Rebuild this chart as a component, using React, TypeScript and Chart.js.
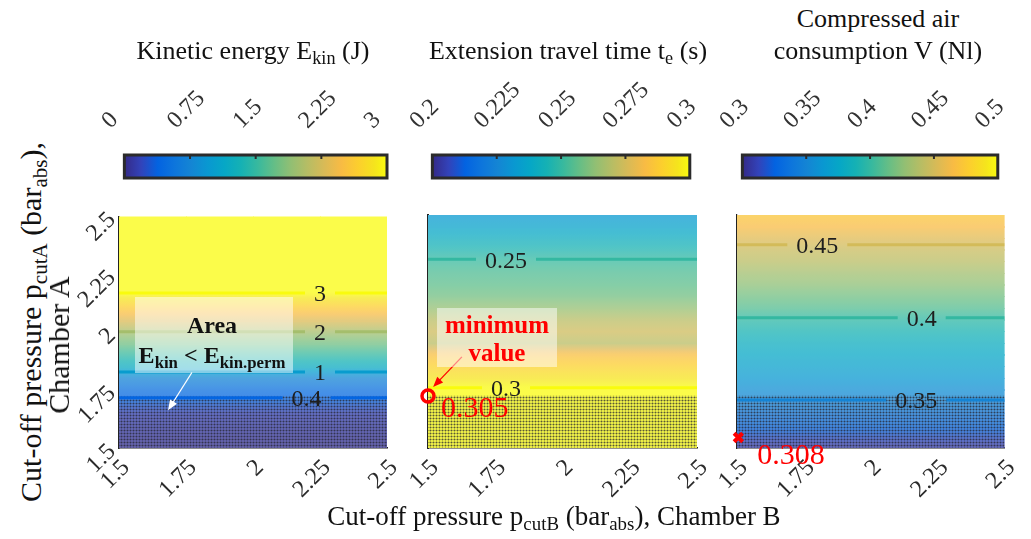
import React, { useEffect, useRef } from 'react';
import { Chart, registerables } from 'chart.js';

Chart.register(...registerables);

// ---------------- data ----------------
const pcutB = [1.5, 1.75, 2, 2.25, 2.5];
const pcutA = [1.5, 1.55, 1.6, 1.65, 1.7, 1.75, 1.8, 1.85, 1.9, 1.95, 2, 2.05, 2.1, 2.15, 2.2, 2.25, 2.3, 2.35, 2.4, 2.45, 2.5];

const kineticEnergy = [0.05, 0.08, 0.12, 0.18, 0.35, 0.5, 0.75, 1.2, 1.48, 1.75, 1.99, 2.3, 2.6, 2.88, 3.2, 3.5, 3.8, 4.05, 4.3, 4.5, 4.7];
const travelTime = [0.325, 0.32, 0.315, 0.31, 0.305, 0.301, 0.295, 0.29, 0.284, 0.27, 0.274, 0.27, 0.264, 0.259, 0.256, 0.254, 0.251, 0.246, 0.241, 0.236, 0.232];
const airConsumption = [0.308, 0.318, 0.33, 0.34, 0.349, 0.357, 0.364, 0.37, 0.376, 0.382, 0.39, 0.398, 0.409, 0.417, 0.425, 0.432, 0.44, 0.446, 0.455, 0.465, 0.472];

const axisTicks = [1.5, 1.75, 2, 2.25, 2.5];
const axisTickLabels = ['1.5', '1.75', '2', '2.25', '2.5'];

const energyTicks = [0, 0.75, 1.5, 2.25, 3];
const energyTickLabels = ['0', '0.75', '1.5', '2.25', '3'];
const timeTicks = [0.2, 0.225, 0.25, 0.275, 0.3];
const timeTickLabels = ['0.2', '0.225', '0.25', '0.275', '0.3'];
const airTicks = [0.3, 0.35, 0.4, 0.45, 0.5];
const airTickLabels = ['0.3', '0.35', '0.4', '0.45', '0.5'];

const energyContours = [0.4, 1, 2, 3];
const energyContourLabels = ['0.4', '1', '2', '3'];
const energyContourLabelX = [2.2, 2.25, 2.25, 2.25];
const timeContours = [0.25, 0.3];
const timeContourLabels = ['0.25', '0.3'];
const timeContourLabelX = [1.79, 1.79];
const airContours = [0.35, 0.4, 0.45];
const airContourLabels = ['0.35', '0.4', '0.45'];
const airContourLabelX = [2.17, 2.19, 1.8];

const infeasibleLimit = 1.725;
const minTimePoint = [{ x: 1.5, y: 1.723 }];
const minTimeLabel = '0.305';
const minAirPoint = [{ x: 1.505, y: 1.545 }];
const minAirLabel = '0.308';

const energyArrow = { from: { x: 1.772, y: 1.826 }, to: { x: 1.683, y: 1.663 } };
const timeArrow = { from: { x: 1.626, y: 1.891 }, to: { x: 1.519, y: 1.762 } };

// ---------------- styling ----------------
const SERIF = "'Liberation Serif', 'Times New Roman', serif";
const PARULA = [
  [53, 42, 135], [50, 67, 186], [3, 99, 225], [13, 117, 220], [20, 133, 212], [9, 152, 209],
  [6, 167, 198], [21, 177, 180], [56, 185, 158], [101, 190, 134], [146, 191, 115], [183, 189, 100],
  [217, 186, 86], [248, 187, 68], [252, 206, 46], [245, 228, 29], [249, 251, 14],
];
const PARULA_POS = [0, 4, 8, 12, 16, 20, 24, 28, 32, 36, 40, 44, 48, 52, 56, 60, 63].map((k) => k / 63);
const CELL_ALPHA = 0.75;

function parula(t: number): number[] {
  const tt = Math.max(0, Math.min(1, t));
  for (let k = 0; k < PARULA_POS.length - 1; k++) {
    if (tt <= PARULA_POS[k + 1]) {
      const f = (tt - PARULA_POS[k]) / (PARULA_POS[k + 1] - PARULA_POS[k]);
      return PARULA[k].map((c, i) => c + (PARULA[k + 1][i] - c) * f);
    }
  }
  return PARULA[PARULA.length - 1];
}
const rgb = (c: number[]) => `rgb(${Math.round(c[0])},${Math.round(c[1])},${Math.round(c[2])})`;
const cellColor = (v: number, vmin: number, vmax: number) =>
  rgb(parula((v - vmin) / (vmax - vmin)).map((c) => 255 - CELL_ALPHA * (255 - c)));

let dotTileCanvas: HTMLCanvasElement | null = null;
function dotTile() {
  if (!dotTileCanvas) {
    const c = document.createElement('canvas');
    c.width = 3; c.height = 3;
    const g = c.getContext('2d')!;
    g.fillStyle = 'rgba(35,35,45,0.75)';
    g.beginPath(); g.arc(1.5, 1.5, 1.05, 0, Math.PI * 2); g.fill();
    dotTileCanvas = c;
  }
  return dotTileCanvas;
}

function drawArrow(ctx: CanvasRenderingContext2D, x0: number, y0: number, x1: number, y1: number, color: string, w: number, head: number) {
  const ang = Math.atan2(y1 - y0, x1 - x0);
  ctx.save();
  ctx.strokeStyle = color; ctx.fillStyle = color; ctx.lineWidth = w;
  ctx.beginPath(); ctx.moveTo(x0, y0);
  ctx.lineTo(x1 - head * 0.7 * Math.cos(ang), y1 - head * 0.7 * Math.sin(ang)); ctx.stroke();
  ctx.beginPath(); ctx.moveTo(x1, y1);
  ctx.lineTo(x1 - head * Math.cos(ang - 0.38), y1 - head * Math.sin(ang - 0.38));
  ctx.lineTo(x1 - head * Math.cos(ang + 0.38), y1 - head * Math.sin(ang + 0.38));
  ctx.closePath(); ctx.fill();
  ctx.restore();
}

interface PanelSpec {
  values: number[]; vmin: number; vmax: number;
  contours: number[]; contourLabels: string[]; contourLabelX: number[];
  arrow?: { from: { x: number; y: number }; to: { x: number; y: number } }; arrowColor?: string;
  points?: { x: number; y: number }[]; pointStyle?: string; pointRadius?: number; pointBorder?: number;
  valueLabel?: string; valueDx?: number; valueDy?: number;
  showY: boolean; left: number; plotW: number; padRight: number; borderW: number;
}

function makeHeatPlugin(spec: PanelSpec) {
  return {
    id: 'heatmapCells',
    beforeDatasetsDraw(chart: any) {
      const { ctx, chartArea: a } = chart;
      const xs = chart.scales.x, ys = chart.scales.y;
      ctx.save();
      ctx.beginPath(); ctx.rect(a.left, a.top, a.right - a.left, a.bottom - a.top); ctx.clip();
      for (let j = 0; j < pcutB.length - 1; j++) {
        const x0 = xs.getPixelForValue(pcutB[j]);
        const x1 = xs.getPixelForValue(pcutB[j + 1]);
        for (let i = 0; i < pcutA.length - 1; i++) {
          const y0 = ys.getPixelForValue(pcutA[i]);
          const y1 = ys.getPixelForValue(pcutA[i + 1]);
          const v0 = spec.values[i], v1 = spec.values[i + 1];
          const g = ctx.createLinearGradient(0, y0, 0, y1);
          for (let k = 0; k <= 4; k++) g.addColorStop(k / 4, cellColor(v0 + ((v1 - v0) * k) / 4, spec.vmin, spec.vmax));
          ctx.fillStyle = g;
          ctx.fillRect(Math.floor(x0), Math.floor(y1), Math.ceil(x1 - x0) + 1, Math.ceil(y0 - y1) + 1);
        }
      }
      // dotted (infeasible) region
      const yTop = ys.getPixelForValue(infeasibleLimit);
      const pat = ctx.createPattern(dotTile(), 'repeat');
      if (pat) { ctx.fillStyle = pat; ctx.fillRect(a.left, yTop, a.right - a.left, a.bottom - yTop); }

      // contour lines
      ctx.font = `24px ${SERIF}`;
      ctx.textAlign = 'center'; ctx.textBaseline = 'middle';
      const labels: { x: number; y: number; t: string }[] = [];
      spec.contours.forEach((lvl, k) => {
        let yc: number | null = null;
        for (let i = 0; i < pcutA.length - 1 && yc === null; i++) {
          const v0 = spec.values[i], v1 = spec.values[i + 1];
          if (v0 !== v1 && (v0 - lvl) * (v1 - lvl) <= 0) yc = pcutA[i] + ((lvl - v0) / (v1 - v0)) * (pcutA[i + 1] - pcutA[i]);
        }
        if (yc === null) return;
        const py = ys.getPixelForValue(yc);
        const lx = xs.getPixelForValue(spec.contourLabelX[k]);
        const half = ctx.measureText(spec.contourLabels[k]).width / 2 + 9;
        ctx.strokeStyle = rgb(parula((lvl - spec.vmin) / (spec.vmax - spec.vmin)));
        ctx.lineWidth = 3;
        ctx.beginPath(); ctx.moveTo(a.left, py); ctx.lineTo(lx - half, py);
        ctx.moveTo(lx + half, py); ctx.lineTo(a.right, py); ctx.stroke();
        labels.push({ x: lx, y: py + 2, t: spec.contourLabels[k] });
      });
      ctx.fillStyle = '#1e1e1e';
      labels.forEach((l) => ctx.fillText(l.t, l.x, l.y));
      ctx.restore();
    },
    afterDatasetsDraw(chart: any) {
      const { ctx } = chart;
      const xs = chart.scales.x, ys = chart.scales.y;
      if (spec.arrow) {
        drawArrow(ctx, xs.getPixelForValue(spec.arrow.from.x), ys.getPixelForValue(spec.arrow.from.y),
          xs.getPixelForValue(spec.arrow.to.x), ys.getPixelForValue(spec.arrow.to.y), spec.arrowColor || '#fff', 1.3, 11);
      }
      if (spec.valueLabel && spec.points) {
        const p = spec.points[0];
        ctx.save();
        ctx.font = `30px ${SERIF}`;
        ctx.fillStyle = '#ff0000';
        ctx.textAlign = 'left'; ctx.textBaseline = 'alphabetic';
        ctx.fillText(spec.valueLabel, xs.getPixelForValue(p.x) + (spec.valueDx || 0), ys.getPixelForValue(p.y) + (spec.valueDy || 0));
        ctx.restore();
      }
    },
  };
}

const PANEL_TOP = 195;
const PANEL_H = 320;
const AXIS_W = 65;

function heatConfig(spec: PanelSpec): any {
  const tickFont = { family: SERIF, size: 24 };
  return {
    type: 'scatter',
    data: {
      datasets: spec.points
        ? [{ data: spec.points, pointStyle: spec.pointStyle, radius: spec.pointRadius, borderWidth: spec.pointBorder,
            borderColor: '#ff0000', backgroundColor: 'rgba(0,0,0,0)', clip: false }]
        : [],
    },
    options: {
      responsive: false, animation: false, events: [],
      layout: { padding: { top: 20, right: spec.padRight, left: 0, bottom: 0 } },
      plugins: { legend: { display: false }, tooltip: { enabled: false } },
      scales: {
        x: {
          type: 'linear', min: 1.5, max: 2.5,
          afterBuildTicks: (s: any) => { s.ticks = axisTicks.map((v) => ({ value: v })); },
          afterFit: (s: any) => { s.height = PANEL_H - 20 - 233; },
          ticks: { callback: (_v: any, i: number) => axisTickLabels[i], autoSkip: false, minRotation: 45, maxRotation: 45,
            font: tickFont, color: '#2b2b2b', padding: 6, labelOffset: 7 },
          grid: { display: false, drawTicks: false },
          border: { display: true, color: '#222', width: 1.5 },
        },
        y: {
          type: 'linear', min: 1.5, max: 2.5,
          afterBuildTicks: (s: any) => { s.ticks = axisTicks.map((v) => ({ value: v })); },
          afterFit: (s: any) => { s.width = AXIS_W; },
          ticks: { display: spec.showY, callback: (_v: any, i: number) => axisTickLabels[i], autoSkip: false, minRotation: 45, maxRotation: 45,
            font: tickFont, color: '#2b2b2b', padding: 7, labelOffset: 0 },
          grid: { display: false, drawTicks: false },
          border: { display: true, color: '#222', width: spec.borderW },
        },
      },
    },
    plugins: [makeHeatPlugin(spec)],
  };
}

function makeColorbarPlugin(ticks: number[]) {
  return {
    id: 'colorbarFill',
    beforeDatasetsDraw(chart: any) {
      const { ctx, chartArea: a } = chart;
      const xs = chart.scales.x;
      ctx.save();
      const g = ctx.createLinearGradient(a.left, 0, a.right, 0);
      PARULA_POS.forEach((p, k) => g.addColorStop(p, rgb(PARULA[k])));
      ctx.fillStyle = g;
      ctx.fillRect(a.left, a.top, a.right - a.left, a.bottom - a.top);
      ctx.strokeStyle = '#2b2b2b'; ctx.lineWidth = 3;
      ctx.strokeRect(a.left, a.top, a.right - a.left, a.bottom - a.top);
      ctx.fillStyle = '#2b2b2b';
      ticks.slice(1, -1).forEach((v) => { const px = xs.getPixelForValue(v); ctx.fillRect(px - 1, a.top, 2, 4); });
      ctx.restore();
    },
  };
}

const CB_TOP = 60;
const CB_H = 130;
const CB_MARGIN = 35;

function colorbarConfig(ticks: number[], labels: string[]): any {
  return {
    type: 'scatter',
    data: { datasets: [] },
    options: {
      responsive: false, animation: false, events: [],
      layout: { padding: { top: 0, right: CB_MARGIN, left: CB_MARGIN, bottom: CB_H - 118 } },
      plugins: { legend: { display: false }, tooltip: { enabled: false } },
      scales: {
        x: {
          type: 'linear', position: 'top', min: ticks[0], max: ticks[ticks.length - 1],
          afterBuildTicks: (s: any) => { s.ticks = ticks.map((v) => ({ value: v })); },
          afterFit: (s: any) => { s.height = 95; },
          ticks: { callback: (_v: any, i: number) => labels[i], autoSkip: false, minRotation: 45, maxRotation: 45,
            font: { family: SERIF, size: 24 }, color: '#333', padding: 20, labelOffset: 2 },
          grid: { display: false, drawTicks: false },
          border: { display: false },
        },
        y: { display: false, min: 0, max: 1 },
      },
    },
    plugins: [makeColorbarPlugin(ticks)],
  };
}

function ChartCanvas({ left, top, width, height, config }: { left: number; top: number; width: number; height: number; config: () => any }) {
  const ref = useRef<HTMLCanvasElement>(null);
  useEffect(() => {
    const chart = new Chart(ref.current as HTMLCanvasElement, config());
    let alive = true;
    const refresh = () => { if (alive) chart.update(); };
    const fonts = (document as any).fonts;
    if (fonts && fonts.ready) fonts.ready.then(refresh, refresh);
    return () => { alive = false; chart.destroy(); };
  }, []);
  return <canvas ref={ref} width={width} height={height} style={{ position: 'absolute', left, top, width, height }} />;
}

const Sub = ({ children }: { children: React.ReactNode }) => (
  <span style={{ fontSize: '0.7em', verticalAlign: '-0.28em', lineHeight: 0 }}>{children}</span>
);

const textBase: React.CSSProperties = {
  position: 'absolute', fontFamily: SERIF, fontSize: 26, lineHeight: '26px', color: '#111', whiteSpace: 'nowrap',
};

const panels: PanelSpec[] = [
  {
    values: kineticEnergy, vmin: energyTicks[0], vmax: energyTicks[energyTicks.length - 1],
    contours: energyContours, contourLabels: energyContourLabels, contourLabelX: energyContourLabelX,
    arrow: energyArrow, arrowColor: '#ffffff',
    showY: true, left: 119, plotW: 268, padRight: 30, borderW: 1.5,
  },
  {
    values: travelTime, vmin: timeTicks[0], vmax: timeTicks[timeTicks.length - 1],
    contours: timeContours, contourLabels: timeContourLabels, contourLabelX: timeContourLabelX,
    arrow: timeArrow, arrowColor: '#ff0000',
    points: minTimePoint, pointStyle: 'circle', pointRadius: 6, pointBorder: 3.5,
    valueLabel: minTimeLabel, valueDx: 13, valueDy: 21,
    showY: false, left: 428, plotW: 269, padRight: 30, borderW: 2,
  },
  {
    values: airConsumption, vmin: airTicks[0], vmax: airTicks[airTicks.length - 1],
    contours: airContours, contourLabels: airContourLabels, contourLabelX: airContourLabelX,
    points: minAirPoint, pointStyle: 'crossRot', pointRadius: 6, pointBorder: 4,
    valueLabel: minAirLabel, valueDx: 19, valueDy: 26,
    showY: false, left: 737, plotW: 268, padRight: 26, borderW: 1.2,
  },
];

const colorbars = [
  { left: 119, w: 268, ticks: energyTicks, labels: energyTickLabels },
  { left: 427, w: 269, ticks: timeTicks, labels: timeTickLabels },
  { left: 737, w: 267, ticks: airTicks, labels: airTickLabels },
];

export default function App() {
  return (
    <div style={{ position: 'absolute', left: 0, top: 0, width: 1031, height: 539, overflow: 'hidden', background: '#fff', fontFamily: SERIF }}>
      {colorbars.map((c, i) => (
        <ChartCanvas key={'cb' + i} left={c.left - CB_MARGIN} top={CB_TOP} width={c.w + 2 * CB_MARGIN} height={CB_H}
          config={() => colorbarConfig(c.ticks, c.labels)} />
      ))}
      {panels.map((p, i) => (
        <ChartCanvas key={'hm' + i} left={p.left - AXIS_W} top={PANEL_TOP} width={AXIS_W + p.plotW + p.padRight} height={PANEL_H}
          config={() => heatConfig(p)} />
      ))}

      {/* titles */}
      <div style={{ ...textBase, left: 253, top: 38, transform: 'translateX(-50%)' }}>Kinetic energy E<Sub>kin</Sub> (J)</div>
      <div style={{ ...textBase, left: 568, top: 38, transform: 'translateX(-50%)' }}>Extension travel time t<Sub>e</Sub> (s)</div>
      <div style={{ ...textBase, left: 878, top: 6, transform: 'translateX(-50%)' }}>Compressed air</div>
      <div style={{ ...textBase, left: 878, top: 38, transform: 'translateX(-50%)' }}>consumption V (Nl)</div>

      {/* axis labels */}
      <div style={{ ...textBase, fontSize: 27, left: 554, top: 503, transform: 'translateX(-50%)' }}>
        Cut-off pressure p<Sub>cutB</Sub> (bar<Sub>abs</Sub>), Chamber B
      </div>
      <div style={{ ...textBase, fontSize: 30, lineHeight: '30px', left: 31, top: 322, transform: 'translate(-50%,-50%) rotate(-90deg)' }}>
        Cut-off pressure p<Sub>cutA</Sub> (bar<Sub>abs</Sub>),
      </div>
      <div style={{ ...textBase, fontSize: 30, lineHeight: '30px', left: 59, top: 345, transform: 'translate(-50%,-50%) rotate(-90deg)' }}>Chamber A</div>

      {/* annotation: area */}
      <div style={{ position: 'absolute', left: 135, top: 297, width: 158, height: 76, background: 'rgba(255,255,255,0.5)' }} />
      <div style={{ ...textBase, fontSize: 24, fontWeight: 'bold', left: 212, top: 312, transform: 'translateX(-50%)' }}>Area</div>
      <div style={{ ...textBase, fontSize: 24, fontWeight: 'bold', left: 212, top: 342, transform: 'translateX(-50%)' }}>
        E<Sub>kin</Sub> &lt; E<Sub>kin.perm</Sub>
      </div>

      {/* annotation: minimum value */}
      <div style={{ position: 'absolute', left: 437, top: 308, width: 120, height: 59, background: 'rgba(255,255,255,0.5)' }} />
      <div style={{ ...textBase, fontSize: 25, fontWeight: 'bold', color: '#ff0000', left: 497, top: 312, transform: 'translateX(-50%)' }}>minimum</div>
      <div style={{ ...textBase, fontSize: 25, fontWeight: 'bold', color: '#ff0000', left: 497, top: 340, transform: 'translateX(-50%)' }}>value</div>
    </div>
  );
}
